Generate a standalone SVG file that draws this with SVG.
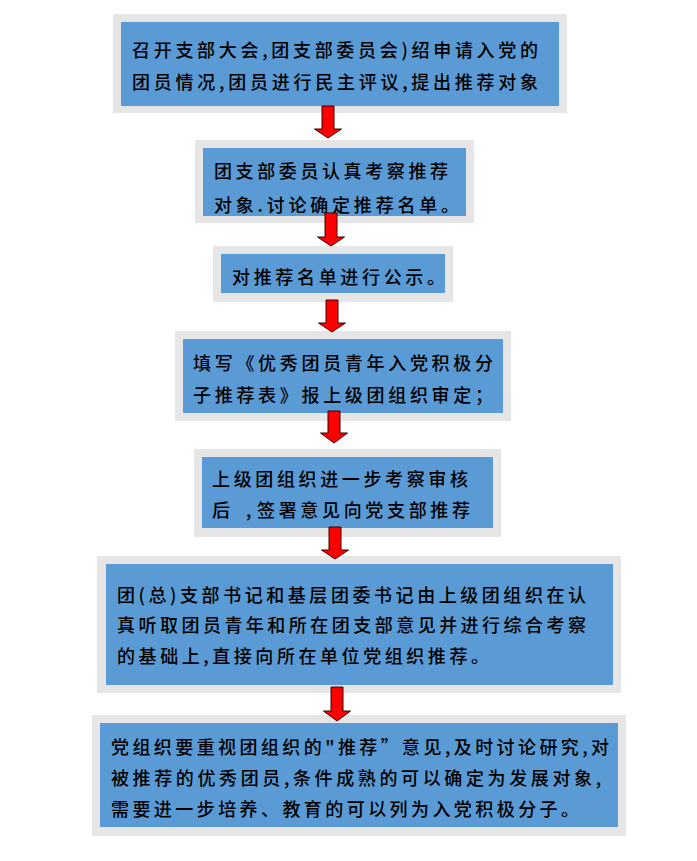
<svg xmlns="http://www.w3.org/2000/svg" width="697" height="861" viewBox="0 0 697 861">
<style>
.outer{fill:#e6e6e6}
.inner{fill:#5b9bd5}
.t{font-family:"Noto Sans CJK SC","Noto Sans CJK JP",sans-serif;font-size:18px;font-weight:500;fill:#000}
.arrow{fill:#ff0000;stroke:#3a0000;stroke-width:1}
</style>
<defs>
<clipPath id="clip2"><rect x="203" y="148" width="263" height="68"/></clipPath>
</defs>
<rect width="697" height="861" fill="#ffffff"/>
<g id="node1">
<rect class="outer" x="113" y="14" width="454" height="99"/>
<rect class="inner" x="121" y="22" width="438" height="84"/>
<text class="t" x="132" y="57" textLength="406" lengthAdjust="spacing">召开支部大会,团支部委员会)绍申请入党的</text>
<text class="t" x="132" y="89" textLength="406" lengthAdjust="spacing">团员情况,团员进行民主评议,提出推荐对象</text>
</g>
<g id="node2">
<rect class="outer" x="195" y="140" width="279" height="83"/>
<rect class="inner" x="203" y="148" width="263" height="68"/>
<g clip-path="url(#clip2)">
<text class="t" x="214" y="178" textLength="234" lengthAdjust="spacing">团支部委员认真考察推荐</text>
<text class="t" x="214" y="212" textLength="245" lengthAdjust="spacing">对象.讨论确定推荐名单。</text>
</g>
</g>
<g id="node3">
<rect class="outer" x="213" y="246" width="240" height="56"/>
<rect class="inner" x="221" y="254" width="224" height="39"/>
<text class="t" x="232" y="284" textLength="213" lengthAdjust="spacing">对推荐名单进行公示。</text>
</g>
<g id="node4">
<rect class="outer" x="175" y="331" width="336" height="90"/>
<rect class="inner" x="183" y="339" width="320" height="74"/>
<text class="t" x="193" y="370" textLength="300" lengthAdjust="spacing">填写《优秀团员青年入党积极分</text>
<text class="t" x="193" y="402" textLength="300" lengthAdjust="spacing">子推荐表》报上级团组织审定；</text>
</g>
<g id="node5">
<rect class="outer" x="194" y="449" width="307" height="88"/>
<rect class="inner" x="202" y="457" width="291" height="71"/>
<text class="t" x="212" y="486" textLength="256" lengthAdjust="spacing">上级团组织进一步考察审核</text>
<text class="t" y="517"><tspan x="212">后</tspan><tspan x="246">,</tspan><tspan x="257" textLength="213" lengthAdjust="spacing">签署意见向党支部推荐</tspan></text>
</g>
<g id="node6">
<rect class="outer" x="97" y="556" width="524" height="137"/>
<rect class="inner" x="106" y="564" width="507" height="121"/>
<text class="t" x="117" y="602" textLength="469" lengthAdjust="spacing">团(总)支部书记和基层团委书记由上级团组织在认</text>
<text class="t" x="117" y="632" textLength="469" lengthAdjust="spacing">真听取团员青年和所在团支部意见并进行综合考察</text>
<text class="t" x="117" y="663" textLength="372" lengthAdjust="spacing">的基础上,直接向所在单位党组织推荐。</text>
</g>
<g id="node7">
<rect class="outer" x="92" y="715" width="534" height="121"/>
<rect class="inner" x="100" y="723" width="518" height="104"/>
<text class="t" x="111" y="754" textLength="498" lengthAdjust="spacing">党组织要重视团组织的"推荐”意见,及时讨论研究,对</text>
<text class="t" x="111" y="785" textLength="490" lengthAdjust="spacing">被推荐的优秀团员,条件成熟的可以确定为发展对象,</text>
<text class="t" x="111" y="816" textLength="468" lengthAdjust="spacing">需要进一步培养、教育的可以列为入党积极分子。</text>
</g>
<g id="connectors">
<polygon class="arrow" points="322,106 334,106 334,129 341.5,129 328,138 314.5,129 322,129"/>
<polygon class="arrow" points="325,213 337,213 337,237 344.5,237 331,246 317.5,237 325,237"/>
<polygon class="arrow" points="326,300 338,300 338,323 345.5,323 332,332 318.5,323 326,323"/>
<polygon class="arrow" points="328,411 340,411 340,433 347.5,433 334,443 320.5,433 328,433"/>
<polygon class="arrow" points="329,527 341,527 341,550 348.5,550 335,559 321.5,550 329,550"/>
<polygon class="arrow" points="331,687 343,687 343,711 350.5,711 337,721 323.5,711 331,711"/>
</g>
</svg>
